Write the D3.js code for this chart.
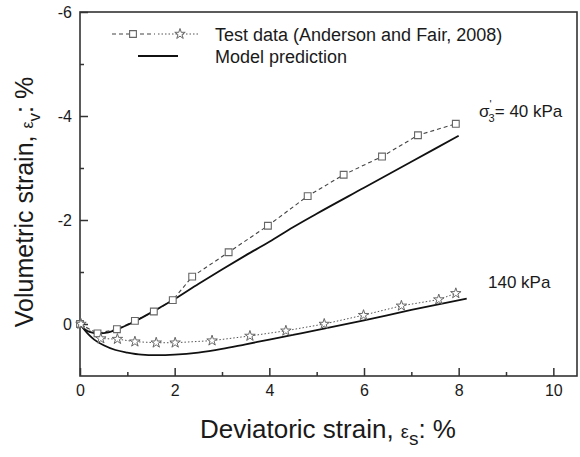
<!DOCTYPE html>
<html>
<head>
<meta charset="utf-8">
<script src="https://cdn.jsdelivr.net/npm/d3@7"></script>
<style>
  body { margin: 0; background: #fff; }
  svg { display: block; font-family: "Liberation Sans", Arial, sans-serif; }
</style>
</head>
<body>
<div id="chart"></div>
<script>
// Test data, 40 kPa (squares)
const test40X = [0, 0.37, 0.78, 1.16, 1.56, 1.96, 2.37, 3.14, 3.97, 4.81, 5.57, 6.38, 7.14, 7.94];
const test40Y = [0, 0.18, 0.10, -0.06, -0.24, -0.46, -0.91, -1.38, -1.89, -2.46, -2.87, -3.22, -3.63, -3.85];
// Test data, 140 kPa (stars)
const test140X = [0.02, 0.44, 0.79, 1.16, 1.61, 2.01, 2.79, 3.59, 4.35, 5.16, 5.99, 6.79, 7.58, 7.94];
const test140Y = [0, 0.28, 0.29, 0.34, 0.36, 0.36, 0.32, 0.23, 0.13, 0.0, -0.17, -0.35, -0.47, -0.59];
// Model prediction curves
const model40X = [0, 0.1, 0.2, 0.4, 0.6, 0.8, 1.0, 1.2, 1.6, 2.0, 2.5, 3.0, 3.5, 4.0, 4.5, 5.0, 6.0, 7.0, 8.0];
const model40Y = [0, 0.1, 0.15, 0.18, 0.16, 0.1, 0.02, -0.07, -0.27, -0.48, -0.77, -1.05, -1.32, -1.58, -1.86, -2.12, -2.62, -3.12, -3.62];
const model140X = [0, 0.1, 0.2, 0.3, 0.5, 0.75, 1.0, 1.3, 1.6, 2.0, 2.5, 3.0, 3.5, 4.0, 4.5, 5.0, 6.0, 7.0, 8.17];
const model140Y = [0, 0.12, 0.22, 0.3, 0.41, 0.5, 0.55, 0.59, 0.6, 0.59, 0.55, 0.48, 0.39, 0.3, 0.21, 0.12, -0.07, -0.27, -0.49];
// Axis ticks
const xMajor = [0, 2, 4, 6, 8, 10];
const xMinor = [1, 3, 5, 7, 9];
const yMajor = [-6, -4, -2, 0];
const yMinor = [-5, -3, -1];

const W = 580, H = 457;
const margin = { left: 80, top: 12, right: 3, bottom: 81 };

const svg = d3.select("#chart").append("svg")
    .attr("width", W).attr("height", H);

const x = d3.scaleLinear().domain([0, 10.5]).range([margin.left, W - margin.right]);
const y = d3.scaleLinear().domain([-6, 1]).range([margin.top, H - margin.bottom]);

const axisColor = "#333";
const textColor = "#1a1a1a";
const fmt = d => String(d); // keep plain hyphen minus

// minor ticks first
svg.append("g")
    .attr("transform", `translate(0,${y(1)})`)
    .call(d3.axisBottom(x).tickValues(xMinor).tickSize(-4).tickFormat(""))
    .call(g => g.select(".domain").remove());
svg.append("g")
    .attr("transform", `translate(${x(0)},0)`)
    .call(d3.axisLeft(y).tickValues(yMinor).tickSize(-4).tickFormat(""))
    .call(g => g.select(".domain").remove());

// major ticks with labels
const xAxis = svg.append("g")
    .attr("transform", `translate(0,${y(1)})`)
    .call(d3.axisBottom(x).tickValues(xMajor).tickSize(-8).tickPadding(9).tickFormat(fmt));
const yAxis = svg.append("g")
    .attr("transform", `translate(${x(0)},0)`)
    .call(d3.axisLeft(y).tickValues(yMajor).tickSize(-8).tickPadding(8).tickFormat(fmt));

[xAxis, yAxis].forEach(g => {
  g.select(".domain").remove();
  g.selectAll("text").attr("font-size", 16).attr("fill", textColor)
    .attr("font-family", "Liberation Sans, Arial, sans-serif");
});
svg.selectAll(".tick line").attr("stroke", axisColor).attr("stroke-width", 1.5);

// frame
svg.append("rect")
    .attr("x", x(0)).attr("y", y(-6))
    .attr("width", x(10.5) - x(0)).attr("height", y(1) - y(-6))
    .attr("fill", "none").attr("stroke", axisColor).attr("stroke-width", 1.6);

const line = d3.line().x(d => x(d[0])).y(d => y(d[1]));
const smooth = d3.line().curve(d3.curveMonotoneX).x(d => x(d[0])).y(d => y(d[1]));
const zip = (a, b) => a.map((v, i) => [v, b[i]]);

const t40 = zip(test40X, test40Y);
const t140 = zip(test140X, test140Y);

// test data lines
svg.append("path").datum(t40).attr("d", line)
    .attr("fill", "none").attr("stroke", "#444").attr("stroke-width", 1.1)
    .attr("stroke-dasharray", "4,3");
svg.append("path").datum(t140).attr("d", line)
    .attr("fill", "none").attr("stroke", "#555").attr("stroke-width", 1)
    .attr("stroke-dasharray", "1.5,2");

// model lines
[zip(model40X, model40Y), zip(model140X, model140Y)].forEach(d => {
  svg.append("path").datum(d).attr("d", smooth)
      .attr("fill", "none").attr("stroke", "#111").attr("stroke-width", 1.8);
});

// markers
const sq = d3.symbol(d3.symbolSquare, 46);
const st = d3.symbol(d3.symbolStar, 34);
svg.selectAll(".sq").data(t40).join("path")
    .attr("d", sq).attr("transform", d => `translate(${x(d[0])},${y(d[1])})`)
    .attr("fill", "#fff").attr("stroke", "#666").attr("stroke-width", 1.1);
svg.selectAll(".st").data(t140).join("path")
    .attr("d", st).attr("transform", d => `translate(${x(d[0])},${y(d[1])})`)
    .attr("fill", "#fff").attr("stroke", "#666").attr("stroke-width", 1);

// legend
const leg = svg.append("g");
leg.append("line").attr("x1", 112).attr("x2", 155).attr("y1", 34).attr("y2", 34)
    .attr("stroke", "#444").attr("stroke-width", 1.1).attr("stroke-dasharray", "4,3");
leg.append("path").attr("d", sq).attr("transform", "translate(133,34)")
    .attr("fill", "#fff").attr("stroke", "#666").attr("stroke-width", 1.1);
leg.append("line").attr("x1", 158).attr("x2", 199).attr("y1", 34).attr("y2", 34)
    .attr("stroke", "#555").attr("stroke-width", 1).attr("stroke-dasharray", "1.5,2");
leg.append("path").attr("d", st).attr("transform", "translate(180,34)")
    .attr("fill", "#fff").attr("stroke", "#666").attr("stroke-width", 1);
leg.append("line").attr("x1", 138).attr("x2", 178).attr("y1", 56).attr("y2", 56)
    .attr("stroke", "#111").attr("stroke-width", 1.8);
leg.append("text").attr("x", 215).attr("y", 41).attr("font-size", 18).attr("fill", textColor)
    .text("Test data (Anderson and Fair, 2008)");
leg.append("text").attr("x", 215).attr("y", 63).attr("font-size", 18).attr("fill", textColor)
    .text("Model prediction");

// annotations
const a40 = svg.append("text").attr("x", 479).attr("y", 117).attr("font-size", 17).attr("fill", textColor);
a40.append("tspan").text("σ");
a40.append("tspan").attr("dy", -9).attr("font-size", 11).text("'");
a40.append("tspan").attr("dx", -3).attr("dy", 14).attr("font-size", 11).text("3");
a40.append("tspan").attr("dy", -5).text("= 40 kPa");

svg.append("text").attr("x", 488).attr("y", 288).attr("font-size", 17).attr("fill", textColor)
    .text("140 kPa");

// axis titles
const xt = svg.append("text").attr("x", 328).attr("y", 438)
    .attr("text-anchor", "middle").attr("font-size", 26).attr("fill", textColor);
xt.append("tspan").text("Deviatoric strain, ");
xt.append("tspan").attr("font-size", 18).text("ε");
xt.append("tspan").attr("font-size", 19).attr("dy", 7).text("s");
xt.append("tspan").attr("dy", -7).text(": %");

const yt = svg.append("text")
    .attr("transform", `translate(33,202) rotate(-90)`)
    .attr("text-anchor", "middle").attr("font-size", 25).attr("fill", textColor);
yt.append("tspan").text("Volumetric strain, ");
yt.append("tspan").attr("font-size", 16).text("ε");
yt.append("tspan").attr("font-size", 17).attr("dy", 7).text("v");
yt.append("tspan").attr("dy", -7).text(": %");
</script>
</body>
</html>
